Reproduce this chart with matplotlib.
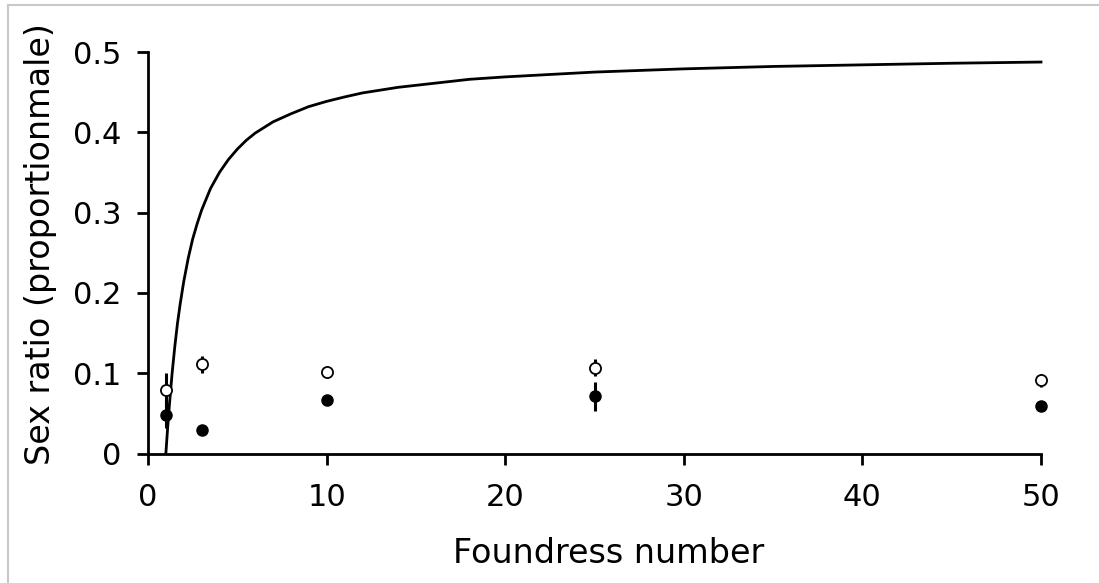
import matplotlib
matplotlib.use("Agg")
import matplotlib.pyplot as plt
from matplotlib.lines import Line2D

# Observed sex ratios (open = one treatment, filled = other)
foundress = [1, 3, 10, 25, 50]
open_mean = [0.079, 0.111, 0.101, 0.107, 0.091]
open_err = [0.021, 0.011, 0.007, 0.011, 0.008]
filled_mean = [0.048, 0.029, 0.067, 0.071, 0.059]
filled_err = [0.016, 0.0, 0.0, 0.018, 0.0]

# Predicted curve
curve_x = [1, 1.1, 1.2, 1.35, 1.5, 1.65, 1.8, 2, 2.25, 2.5, 2.75, 3, 3.5, 4, 4.5, 5,
           5.5, 6, 7, 8, 9, 10, 11, 12, 13, 14, 16, 18, 20, 22.5, 25, 30, 35, 40, 45, 50]
curve_y = [0.0, 0.032, 0.061, 0.100, 0.133, 0.162, 0.186, 0.214, 0.243, 0.267, 0.286,
           0.303, 0.330, 0.350, 0.366, 0.379, 0.390, 0.399, 0.413, 0.423, 0.432, 0.4385,
           0.444, 0.449, 0.4525, 0.456, 0.461, 0.466, 0.469, 0.472, 0.475, 0.479, 0.482,
           0.484, 0.486, 0.4875]

xticks = [0, 10, 20, 30, 40, 50]
yticks = [0, 0.1, 0.2, 0.3, 0.4, 0.5]
ytick_labels = ["0", "0.1", "0.2", "0.3", "0.4", "0.5"]

W, H = 1099, 583
fig = plt.figure(figsize=(W / 100, H / 100), dpi=100)
ax = fig.add_axes([148 / W, 1 - 453.5 / H, (1041 - 148) / W, (453.5 - 52) / H])

ax.plot(curve_x, curve_y, color="black", lw=2, zorder=2, clip_on=False,
        solid_joinstyle="round")

ax.errorbar(foundress, filled_mean, yerr=filled_err, fmt="o", color="black",
            mfc="black", mec="black", ms=8, elinewidth=2.2, capsize=0, zorder=3,
            clip_on=False)
ax.errorbar(foundress, open_mean, yerr=open_err, fmt="o", color="black",
            mfc="white", mec="black", ms=8, mew=1.3, elinewidth=2.2, capsize=0,
            zorder=4, clip_on=False)

ax.set_xlim(0, 50)
ax.set_ylim(0, 0.5)
ax.set_xticks(xticks)
ax.set_xticklabels([str(t) for t in xticks])
ax.set_yticks(yticks)
ax.set_yticklabels(ytick_labels)
for s in ["top", "right"]:
    ax.spines[s].set_visible(False)
for s in ["left", "bottom"]:
    ax.spines[s].set_linewidth(2)
ax.tick_params(direction="out", length=8, width=2, labelsize=22)
ax.tick_params(axis="x", pad=13)
ax.tick_params(axis="y", pad=11)

fig.text(609 / W, 1 - 563 / H, "Foundress number", fontsize=24,
         ha="center", va="baseline")
fig.text(41 / W, 1 - 244 / H, "Sex ratio (proportionmale)", fontsize=24,
         ha="center", va="center", rotation=90)

# light grey frame at left and top of the figure
fig.add_artist(Line2D([7.5 / W, 7.5 / W], [0, 1 - 4.5 / H], transform=fig.transFigure,
                      color="#c8c8c8", lw=1.5))
fig.add_artist(Line2D([7.5 / W, 1], [1 - 4.5 / H, 1 - 4.5 / H], transform=fig.transFigure,
                      color="#c8c8c8", lw=1.5))

fig.savefig("out.png", dpi=100, facecolor="white")
